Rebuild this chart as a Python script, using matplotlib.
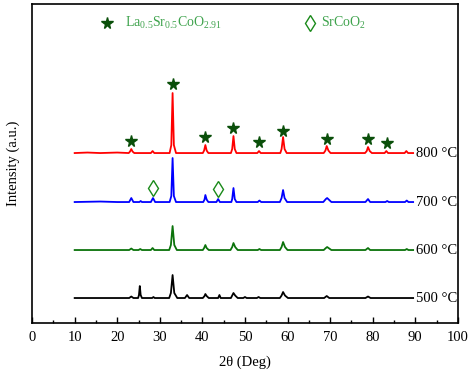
import matplotlib
matplotlib.use("Agg")
import matplotlib.pyplot as plt
from matplotlib.ticker import MultipleLocator

plt.rcParams['font.family'] = ['Liberation Serif', 'DejaVu Serif']
plt.rcParams['mathtext.fontset'] = 'custom'
plt.rcParams['mathtext.rm'] = 'Liberation Serif'
plt.rcParams['mathtext.it'] = 'Liberation Serif:italic'

# ---- data (2theta, relative intensity above baseline, arbitrary units) ----
pattern_800 = [(10, 0), (13, 0.5), (16, 0), (20, 0.5), (22.7, 0), (23.0, 1.5), (23.3, 4), (23.6, 1.5), (24.0, 0),
               (27.9, 0), (28.3, 2), (28.7, 0), (32.3, 0), (32.7, 8), (33.0, 60), (33.3, 8), (33.8, 0),
               (40.1, 0), (40.4, 2.5), (40.7, 8), (41.0, 2.5), (41.4, 0), (46.7, 0), (47.0, 4), (47.3, 17),
               (47.6, 4), (48.0, 0), (52.9, 0), (53.3, 2), (53.7, 0), (58.3, 0), (58.6, 4), (58.95, 16),
               (59.3, 4), (59.8, 0), (68.5, 0), (68.9, 2.5), (69.2, 7), (69.6, 2.5), (70.1, 0), (78.2, 0),
               (78.6, 2), (78.9, 6), (79.3, 2), (79.8, 0), (82.8, 0), (83.2, 2), (83.6, 0), (87.5, 0),
               (87.9, 2), (88.3, 0), (89.5, 0)]
pattern_700 = [(10, 0), (16, 0.5), (20, 0), (22.8, 0), (23.3, 4), (23.8, 0), (25.2, 0), (25.5, 1), (25.8, 0),
               (27.9, 0), (28.4, 4), (28.9, 0), (32.3, 0), (32.7, 6), (33.0, 44), (33.3, 6), (33.8, 0),
               (40.2, 0), (40.5, 2.5), (40.7, 7), (41.0, 2.5), (41.4, 0), (43.3, 0), (43.7, 3), (44.1, 0),
               (46.8, 0), (47.0, 3), (47.3, 14), (47.6, 3), (48.0, 0), (53.0, 0), (53.4, 1.5), (53.8, 0),
               (58.2, 0), (58.6, 4), (58.95, 12), (59.3, 4), (59.9, 0), (68.4, 0), (69.0, 3), (69.3, 4),
               (69.8, 2), (70.3, 0), (78.3, 0), (78.9, 3), (79.4, 0), (83.0, 0), (83.4, 1), (83.8, 0),
               (87.6, 0), (88.0, 1.5), (88.4, 0), (89.5, 0)]
pattern_600 = [(10, 0), (22.8, 0), (23.3, 1.5), (23.8, 0), (25.0, 0), (25.4, 1), (25.8, 0), (27.9, 0),
               (28.3, 2), (28.7, 0), (32.2, 0), (32.6, 5), (33.0, 24), (33.4, 5), (34.0, 0), (40.1, 0),
               (40.4, 2), (40.7, 5), (41.0, 2), (41.5, 0), (46.6, 0), (47.0, 3), (47.3, 7), (47.7, 3),
               (48.3, 0), (53.0, 0), (53.4, 1), (53.8, 0), (58.2, 0), (58.6, 3), (58.95, 8), (59.4, 3),
               (60.0, 0), (68.5, 0), (69.0, 2), (69.3, 3), (69.8, 1.5), (70.3, 0), (78.3, 0), (78.9, 2),
               (79.4, 0), (87.6, 0), (88.0, 1), (88.4, 0), (89.5, 0)]
pattern_500 = [(10, 0), (22.8, 0), (23.3, 1.5), (23.8, 0), (24.9, 0), (25.1, 3), (25.3, 12), (25.5, 3),
               (25.8, 0), (28.2, 0), (28.5, 1), (28.8, 0), (32.2, 0), (32.6, 5), (33.0, 23), (33.4, 5),
               (34.1, 0), (35.9, 0), (36.4, 3), (36.9, 0), (40.1, 0), (40.5, 2), (40.7, 4), (41.0, 2),
               (41.5, 0), (43.7, 0), (44.0, 3), (44.3, 0), (46.7, 0), (47.0, 2.5), (47.3, 5), (47.7, 2.5),
               (48.3, 0), (49.6, 0), (50.0, 1), (50.4, 0), (52.8, 0), (53.2, 1), (53.6, 0), (58.2, 0),
               (58.6, 2.5), (58.95, 6), (59.4, 2.5), (60.1, 0), (68.6, 0), (69.2, 2), (69.8, 0), (78.3, 0),
               (78.9, 1.5), (79.5, 0), (89.5, 0)]

labels = ["800 °C", "700 °C", "600 °C", "500 °C"]
patterns = [pattern_800, pattern_700, pattern_600, pattern_500]
offsets = [170, 121, 73, 25]
colors = ["#ff0000", "#0000ff", "#0b730b", "#000000"]

# phase markers (2theta, absolute y)
star_x = [23.3, 33.0, 40.7, 47.3, 53.4, 58.9, 69.2, 78.9, 83.3]
star_y = [182, 239, 186, 195, 181, 192, 184, 184, 180]
diamond_x = [28.4, 43.7]
diamond_y = [135, 134]

fig = plt.figure(figsize=(4.72, 3.70), dpi=100)
ax = fig.add_axes([0.068, 0.127, 0.902, 0.862])

for pat, off, col, lab in zip(patterns, offsets, colors, labels):
    xs = [p[0] for p in pat]
    ys = [p[1] + off for p in pat]
    ax.plot(xs, ys, color=col, lw=1.3)
    ax.text(90.2, off, lab, fontsize=10.5, va='center', ha='left', color='black')

ax.plot(star_x, star_y, ls='none', marker='*', ms=8.5, color='#0a4f0a', mec='#0a4f0a')
ax.plot(diamond_x, diamond_y, ls='none', marker='d', ms=8.5, mfc='none', mec='#1a8a1a', mew=1.0)

# legend-like annotations
ax.plot([17.6], [300], ls='none', marker='*', ms=8.5, color='#0a4f0a')
ax.text(21.8, 300, r"La$_{\mathrm{0.5}}$Sr$_{\mathrm{0.5}}$CoO$_{\mathrm{2.91}}$", fontsize=10,
        color='#3fa34d', va='center', ha='left')
ax.plot([65.3], [300], ls='none', marker='d', ms=8.5, mfc='none', mec='#1a8a1a', mew=1.0)
ax.text(67.8, 300, r"SrCoO$_{\mathrm{2}}$", fontsize=10, color='#3fa34d', va='center', ha='left')

ax.set_xlim(0, 100)
ax.set_ylim(0, 319)
ax.xaxis.set_major_locator(MultipleLocator(10))
ax.xaxis.set_minor_locator(MultipleLocator(5))
ax.tick_params(axis='x', which='major', direction='in', length=4, width=1, labelsize=10.5, pad=6)
ax.tick_params(axis='x', which='minor', direction='in', length=2.5, width=1)
ax.set_yticks([])
for s in ax.spines.values():
    s.set_linewidth(1.2)

ax.set_xlabel("2θ (Deg)", fontsize=10.5, labelpad=8)
ax.set_ylabel("Intensity (a.u.)", fontsize=10.5, labelpad=9)

fig.savefig("out.png", dpi=100)
